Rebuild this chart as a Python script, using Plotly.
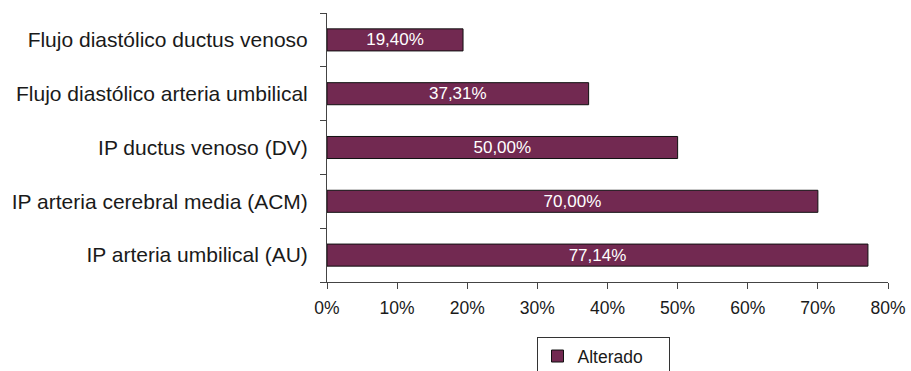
import plotly.graph_objects as go

# Doppler parameters (top to bottom) and percentage of altered cases
categories = [
    "Flujo diastólico ductus venoso",
    "Flujo diastólico arteria umbilical",
    "IP ductus venoso (DV)",
    "IP arteria cerebral media (ACM)",
    "IP arteria umbilical (AU)",
]
altered_pct = [19.40, 37.31, 50.00, 70.00, 77.14]
series_name = "Alterado"
x_ticks = [0, 10, 20, 30, 40, 50, 60, 70, 80]
x_tick_labels = [f"{t}%" for t in x_ticks]

bar_labels = [f"{v:.2f}%".replace(".", ",") for v in altered_pct]

fig = go.Figure(
    go.Bar(
        x=altered_pct,
        y=categories,
        orientation="h",
        name=series_name,
        text=bar_labels,
        textposition="inside",
        insidetextanchor="middle",
        constraintext="none",
        textangle=0,
        textfont=dict(color="white", size=17, family="Liberation Sans, Arial"),
        marker=dict(color="#722951", line=dict(color="#111111", width=1)),
        showlegend=True,
    )
)

fig.update_layout(
    width=911,
    height=371,
    margin=dict(l=327, r=23, t=13, b=89, autoexpand=False),
    paper_bgcolor="white",
    plot_bgcolor="white",
    bargap=0.59,
    font=dict(family="Liberation Sans, Arial", size=17, color="#1a1a1a"),
    legend=dict(
        orientation="h",
        x=0.492,
        xanchor="center",
        y=-0.205,
        yanchor="top",
        bordercolor="#333333",
        borderwidth=1,
        font=dict(size=17.5, color="#1a1a1a"),
        itemwidth=30,
        entrywidth=86,
        entrywidthmode="pixels",
    ),
)

fig.update_xaxes(
    range=[0, 80],
    tickvals=x_ticks,
    ticktext=x_tick_labels,
    showgrid=False,
    zeroline=False,
    showline=True,
    linecolor="#444444",
    linewidth=1,
    ticks="outside",
    ticklen=6,
    tickcolor="#444444",
    tickfont=dict(size=17.5),
    ticklabelstandoff=4,
)

fig.update_yaxes(
    categoryorder="array",
    categoryarray=categories[::-1],
    tickson="boundaries",
    showgrid=False,
    showline=True,
    linecolor="#444444",
    linewidth=1,
    ticks="outside",
    ticklen=6,
    tickcolor="#444444",
    tickfont=dict(size=21),
    ticklabelstandoff=14,
)

fig.write_html("out.html")
